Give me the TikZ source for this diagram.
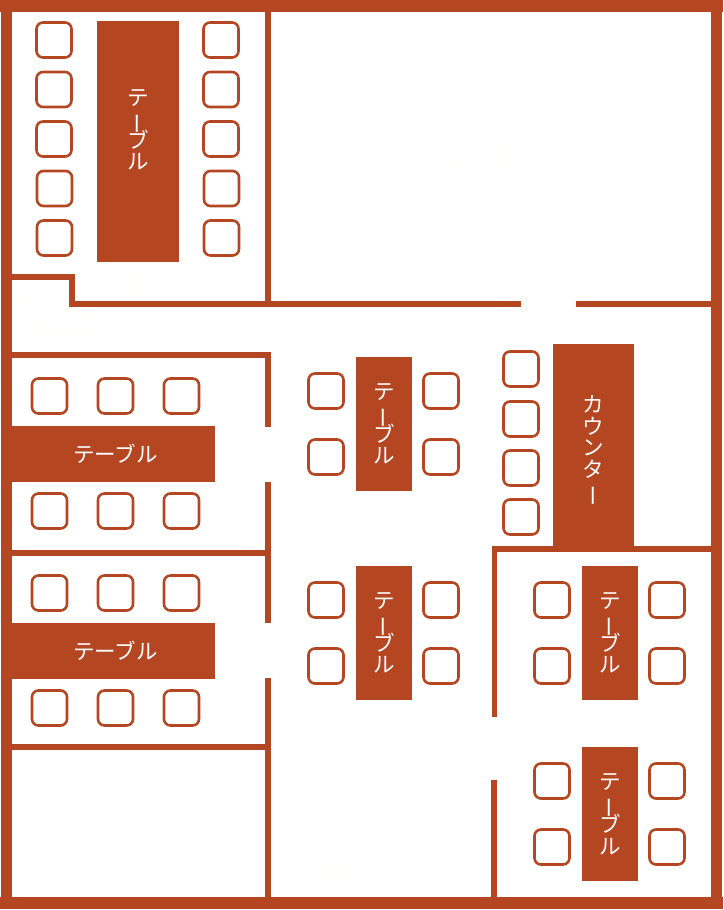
\documentclass[tikz,border=0pt]{standalone}
\usepackage{fontspec}
\setmainfont{Noto Sans CJK JP}
\definecolor{wallc}{HTML}{B44622}
\definecolor{faintc}{HTML}{FFFFFB}
\newcommand{\vbarchar}{\hspace*{0.3em}\smash{\raisebox{-0.06em}{\rotatebox[origin=c]{90}{ー}}}}
\tikzset{
  wall/.style={fill=wallc,draw=none},
  seat/.style={draw=wallc,line width=2.6pt,rounded corners=6.5pt,minimum width=35pt,minimum height=35pt,inner sep=0pt,fill=white},
  tablebox/.style={fill=wallc,draw=none,inner sep=0pt,text=white,font=\fontsize{21.5}{21.5}\selectfont},
  vtext/.style={inner sep=0pt,text=white,align=center,font=\fontsize{21.5}{21.5}\selectfont},
  faint/.style={text=faintc,inner sep=0pt,font=\fontsize{20}{22}\selectfont},
}
\newcommand{\wallrect}[4]{\fill[wall] (#1,-#2) rectangle (#3,-#4);}
\newcommand{\seatat}[3]{\node[seat] (#1) at (#2,-#3) {};}
% name, cx, cy, w, h, text y, text
\newcommand{\vtable}[7]{\node[tablebox,minimum width=#4pt,minimum height=#5pt] (#1) at (#2,-#3) {};
  \node[vtext] (#1txt) at (#2,-#6) {#7};}
\newcommand{\teeburu}{テ\\\vbarchar\\ブ\\ル}
\begin{document}
\begin{tikzpicture}[x=1pt,y=1pt]
\useasboundingbox (0,0) rectangle (723,-910);
% outer walls
\wallrect{0}{0}{723}{12}
\wallrect{0}{897}{723}{909}
\wallrect{1}{0}{12}{909}
\wallrect{711}{0}{722}{909}
% room partitions
\wallrect{265}{12}{271}{303}
\wallrect{71}{301}{521}{307}
\wallrect{576}{301}{711}{307}
\wallrect{12}{274}{75}{280}
\wallrect{69}{274}{75}{307}
\wallrect{12}{352}{271}{358}
\wallrect{265}{352}{271}{427}
\wallrect{265}{482}{271}{623}
\wallrect{265}{678}{271}{897}
\wallrect{12}{550}{271}{556}
\wallrect{12}{744}{271}{750}
\wallrect{491.5}{546}{711}{552}
\wallrect{491.5}{546}{497}{717}
\wallrect{491}{780}{496.5}{897}
% tables
\vtable{t1}{138}{141.5}{82}{241}{130}{\teeburu}
\node[tablebox,minimum width=203pt,minimum height=56pt] (t2) at (113.5,-454) {\hspace{4pt}テーブル};
\node[tablebox,minimum width=203pt,minimum height=56pt] (t3) at (113.5,-651) {\hspace{4pt}テーブル};
\vtable{t4}{384}{424}{56}{134}{424}{\teeburu}
\vtable{t5}{384}{633}{56}{134}{633}{\teeburu}
\vtable{t6}{593.5}{446}{81.5}{204}{447.5}{カ\\ウ\\ン\\タ\\\vbarchar}
\vtable{t7}{610}{633}{56}{134}{633}{\teeburu}
\vtable{t8}{610}{814}{56}{134}{814.5}{\teeburu}
% seats, top-left room
\seatat{a1}{54}{40}
\seatat{a2}{54}{89.5}
\seatat{a3}{54}{139}
\seatat{a4}{54.5}{188.5}
\seatat{a5}{54.5}{238}
\seatat{b1}{221}{40}
\seatat{b2}{221}{89.5}
\seatat{b3}{221}{139}
\seatat{b4}{221.5}{188.5}
\seatat{b5}{221.5}{238}
% left rooms
\seatat{c1}{49.5}{396}
\seatat{c2}{115.5}{396}
\seatat{c3}{181.5}{396}
\seatat{c4}{49.5}{511}
\seatat{c5}{115.5}{511}
\seatat{c6}{181.5}{511}
\seatat{d1}{49.5}{593}
\seatat{d2}{115.5}{593}
\seatat{d3}{181.5}{593}
\seatat{d4}{49.5}{708}
\seatat{d5}{115.5}{708}
\seatat{d6}{181.5}{708}
% centre
\seatat{e1}{326}{391}
\seatat{e2}{441}{391}
\seatat{e3}{326}{457}
\seatat{e4}{441}{457}
\seatat{f1}{326}{600}
\seatat{f2}{441}{600}
\seatat{f3}{326}{666}
\seatat{f4}{441}{666}
% counter
\seatat{g1}{521}{369}
\seatat{g2}{521}{419}
\seatat{g3}{521}{468}
\seatat{g4}{521}{517}
% right
\seatat{h1}{552}{600}
\seatat{h2}{667}{600}
\seatat{h3}{552}{666}
\seatat{h4}{667}{666}
\seatat{i1}{552}{781}
\seatat{i2}{667}{781}
\seatat{i3}{552}{847}
\seatat{i4}{667}{847}
% faint labels
\node[faint] (l1) at (155,-282) {座\hspace{1em}敷};
\node[faint] (l2) at (484,-155) {厨\hspace{1.2em}房};
\node[faint,align=left,anchor=north west] (l3) at (22,-293) {←\\[6pt]WC入口};
\node[faint] (l4) at (322,-873) {↑入口};
\end{tikzpicture}
\end{document}
